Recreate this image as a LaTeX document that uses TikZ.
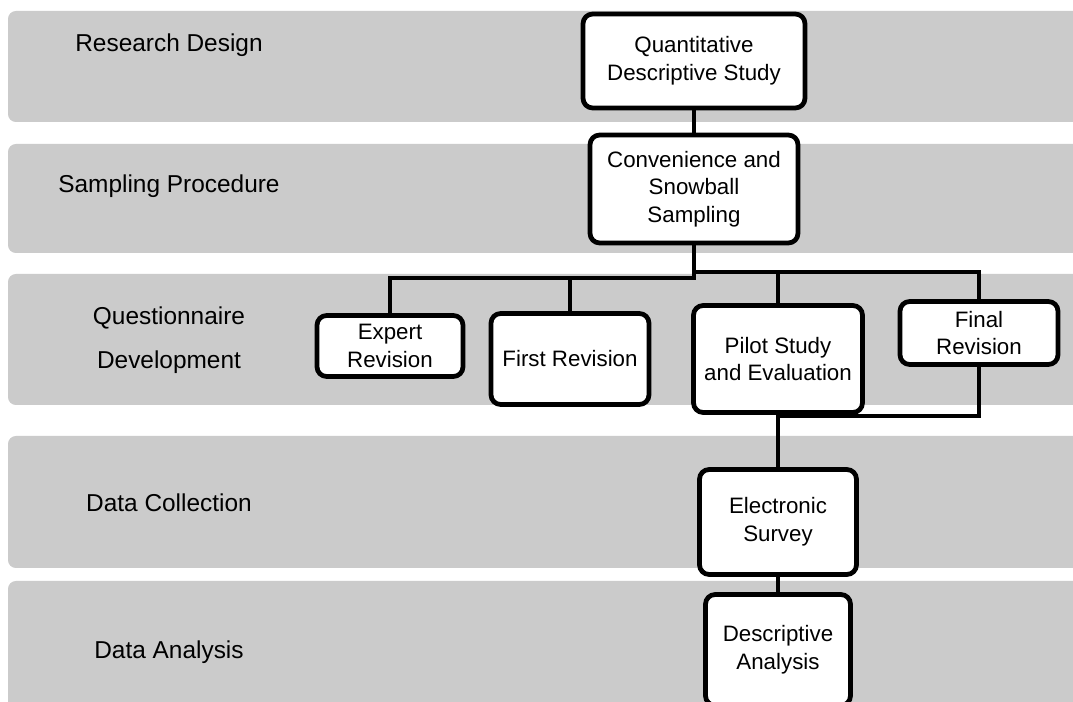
\documentclass[tikz,border=0pt]{standalone}
\usepackage{fontspec}
\setmainfont{Liberation Sans}
\usetikzlibrary{backgrounds}
\definecolor{bandgray}{RGB}{203,203,203}

\tikzset{
  box/.style={draw=black,fill=white,line width=2.7pt,rounded corners=5.5pt,align=center,inner sep=0pt,font=\fontsize{12.7}{15.8}\selectfont},
  phase/.style={align=center,inner sep=0pt,font=\fontsize{13.9}{25}\selectfont},
  link/.style={draw=black,line width=2.6pt,line cap=rect},
  band/.style={fill=bandgray,rounded corners=4.5pt}
}

\begin{document}
\begin{tikzpicture}[line join=round,x=0.02cm,y=-0.02cm]
\useasboundingbox (0,0) rectangle (1073,702);
\clip (0,0) rectangle (1073,702);
% phase labels
\node[phase] (lbldesign) at (169,45) {Research Design};
\node[phase] (lblsampling) at (169,186) {Sampling Procedure};
\node[phase] (lblquest) at (169,340) {Questionnaire\\Development};
\node[phase] (lblcollect) at (169,503) {Data Collection};
\node[phase] (lblanalysis) at (169,652) {Data Analysis};
% boxes
\node[box,minimum width=4.44cm,minimum height=1.88cm] (quant) at (694,61) {Quantitative\\Descriptive Study};
\node[box,minimum width=4.16cm,minimum height=2.16cm] (conv) at (694,189) {Convenience and\\Snowball\\Sampling};
\node[box,minimum width=2.92cm,minimum height=1.22cm] (expert) at (390,346) {Expert\\Revision};
\node[box,minimum width=3.16cm,minimum height=1.82cm] (first) at (570,359) {First Revision};
\node[box,minimum width=3.38cm,minimum height=2.14cm] (pilot) at (778,359) {Pilot Study\\and Evaluation};
\node[box,minimum width=3.16cm,minimum height=1.26cm] (final) at (979,333) {Final\\Revision};
\node[box,minimum width=3.14cm,minimum height=2.10cm] (survey) at (778,522) {Electronic\\Survey};
\node[box,minimum width=2.90cm,minimum height=2.22cm] (analysis) at (778,650) {Descriptive\\Analysis};
\coordinate (busL) at (694,278);
\coordinate (busR) at (694,272);
\begin{scope}[on background layer]
% grey bands
\fill[band] (8,11) rectangle (1100,122);
\fill[band] (8,144) rectangle (1100,253);
\fill[band] (8,274) rectangle (1100,405);
\fill[band] (8,436) rectangle (1100,568);
\fill[band] (8,581) rectangle (1100,740);
% connectors
\draw[link] (quant) -- (conv);
\draw[link] (conv.south) -- (busL) -| (expert.north);
\draw[link] (busL) -| (first.north);
\draw[link] (busR) -| (pilot.north);
\draw[link] (busR) -| (final.north);
\draw[link] (final.south) |- ([yshift=-0.6pt]pilot.south);
\draw[link] (pilot) -- (survey);
\draw[link] (survey) -- (analysis);
\end{scope}
\end{tikzpicture}
\end{document}
